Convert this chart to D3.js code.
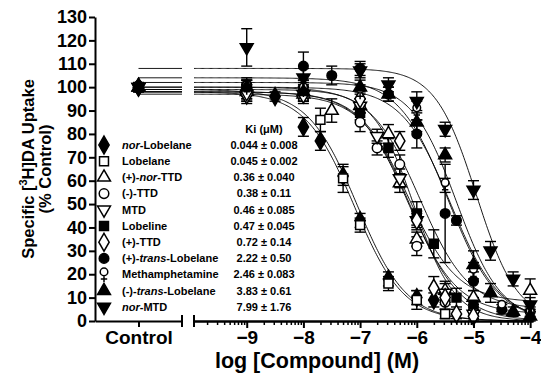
<!DOCTYPE html>
<html>
<head>
<meta charset="utf-8">
<script src="https://cdn.jsdelivr.net/npm/d3@7"></script>
<style>
  body { margin: 0; background: #fff; }
  text { font-family: "Liberation Sans", Arial, sans-serif; font-weight: bold; fill: #000; }
</style>
</head>
<body>
<svg id="chart" width="541" height="375"></svg>
<script>
"use strict";

// compounds, in legend order (*...* = italic part)
const seriesNames = ["*nor*-Lobelane", "Lobelane", "(+)-*nor*-TTD", "(-)-TTD", "MTD", "Lobeline",
  "(+)-TTD", "(+)-*trans*-Lobelane", "Methamphetamine", "(-)-*trans*-Lobelane", "*nor*-MTD"];
const kiLabels = ["0.044 \u00b1 0.008", "0.045 \u00b1 0.002", "0.36 \u00b1 0.040", "0.38 \u00b1 0.11",
  "0.46 \u00b1 0.085", "0.47 \u00b1 0.045", "0.72 \u00b1 0.14", "2.22 \u00b1 0.50", "2.46 \u00b1 0.083",
  "3.83 \u00b1 0.61", "7.99 \u00b1 1.76"];
const markerShapes = ["diamond", "square", "triangle", "circle", "triangleDown", "square",
  "diamond", "circle", "female", "triangle", "triangleDown"];
const markerFilled = [true, false, false, false, false, true, false, true, false, true, true];

// log [compound] (M), mean % control, SEM
const logConc = [
  [-9, -8.5, -8, -7.7, -7.3, -7, -6.5, -6, -5.7],
  [-9, -8, -7.7, -7.3, -7, -6.5, -6, -5.5],
  [-9, -8, -7.5, -7, -6.5, -6.3, -6, -5.5, -5, -4],
  [-9, -8, -7, -6.7, -6.3, -6, -5.5, -5, -4],
  [-9, -8, -7, -6.7, -6.3, -6, -5.5, -5],
  [-9, -8, -7, -6.5, -6, -5.7, -5.3, -5],
  [-9, -8, -7, -6.3, -6, -5.7, -5.5, -5.3, -5],
  [-9, -8, -7.5, -7, -6.5, -6, -5.5, -5.3, -5, -4.5],
  [-9, -8, -7, -6, -5.5, -5, -4.5, -4],
  [-9, -8, -7, -6.5, -6, -5.5, -5, -4.7, -4.3, -4],
  [-9, -8, -7, -6.5, -6, -5.5, -5, -4.7, -4.3, -4]
];
const meanValues = [
  [97, 96, 83, 77, 62, 43, 18, 10, 9],
  [99, 96, 86, 61, 41, 16, 9, 3],
  [98, 97, 90, 92, 80, 59, 35, 13, 10, 13],
  [97, 98, 85, 74, 67, 32, 8, 4, 4],
  [96, 97, 92, 79, 61, 43, 12, 3],
  [100, 99, 89, 74, 46, 33, 10, 7],
  [98, 97, 95, 77, 43, 14, 10, 3, 2],
  [101, 109, 105, 108, 97, 80, 46, 43, 17, 5],
  [100, 99, 98, 90, 58, 21, 6, 3],
  [100, 98, 100, 97, 85, 71, 24, 12, 4, 2],
  [117, 104, 107, 101, 94, 82, 56, 30, 18, 7]
];
const semValues = [
  [3, 2, 4, 4, 4, 3, 3, 3, 3],
  [3, 3, 5, 6, 3, 3, 4, 2],
  [3, 3, 5, 3, 4, 4, 3, 4, 3, 5],
  [3, 2, 4, 3, 4, 4, 3, 2, 2],
  [3, 3, 3, 3, 4, 4, 4, 2],
  [3, 4, 3, 4, 5, 6, 4, 3],
  [3, 3, 3, 4, 3, 5, 3, 2, 2],
  [3, 6, 4, 3, 3, 6, 21, 2, 4, 2],
  [3, 3, 3, 4, 3, 4, 2, 2],
  [3, 3, 3, 3, 4, 3, 6, 4, 2, 2],
  [8, 4, 3, 3, 4, 3, 4, 4, 3, 3]
];
// fitted one-site curves
const fitTop = [98, 99, 98, 98, 97, 100, 99, 104, 100, 102, 108];
const fitBottom = [0, 0, 8, 3, 0, 5, 0, 0, 0, 0, 0];
const fitLogIC50 = [-7.1, -7.05, -6.15, -6.15, -6.1, -5.95, -6.05, -5.45, -5.4, -5.3, -4.95];
const fitHill = [1, 1, 1, 1, 1, 1, 1.2, 1, 1, 1.1, 1.2];

const controlMean = 100;
const controlSem = 2;

const yTicks = [0, 10, 20, 30, 40, 50, 60, 70, 80, 90, 100, 110, 120, 130];
const xMajorTicks = [-9, -8, -7, -6, -5, -4];

const svg = d3.select("#chart");

const yScale = d3.scaleLinear().domain([0, 130]).range([321, 17]);
const xScale = d3.scaleLinear().domain([-9.93, -3.95]).range([194, 533]);
const ctrlScale = d3.scaleLinear().domain([0, 1]).range([95, 182]);
const ctrlX = ctrlScale(0.5);

const curve = (i, lx) =>
  fitBottom[i] + (fitTop[i] - fitBottom[i]) / (1 + Math.pow(10, (lx - fitLogIC50[i]) * fitHill[i]));

function markerPath(shape) {
  if (shape === "diamond") return d3.symbol(d3.symbolDiamond, 92)();
  if (shape === "square") return d3.symbol(d3.symbolSquare, 80)();
  if (shape === "triangle" || shape === "triangleDown") return d3.symbol(d3.symbolTriangle, 72)();
  if (shape === "circle") return d3.symbol(d3.symbolCircle, 72)();
  // female sign
  return "M0,-6.5A3.8,3.8 0 1,1 0,1.1A3.8,3.8 0 1,1 0,-6.5M0,1.1L0,7.5M-3.2,4.5L3.2,4.5";
}

function drawMarker(g, i, x, y) {
  const shape = markerShapes[i];
  g.append("path")
    .attr("d", markerPath(shape))
    .attr("transform", `translate(${x},${y})` + (shape === "triangleDown" ? " rotate(180)" : ""))
    .attr("fill", markerFilled[i] ? "#000" : "#fff")
    .attr("stroke", "#000")
    .attr("stroke-width", 1.5);
}

function errorBar(g, x, v, e) {
  const y0 = yScale(Math.max(0, v - e)), y1 = yScale(v + e);
  g.append("line").attr("x1", x).attr("x2", x).attr("y1", y0).attr("y2", y1);
  g.append("line").attr("x1", x - 5.5).attr("x2", x + 5.5).attr("y1", y0).attr("y2", y0);
  g.append("line").attr("x1", x - 5.5).attr("x2", x + 5.5).attr("y1", y1).attr("y2", y1);
}

// curves
const curveG = svg.append("g").attr("fill", "none").attr("stroke", "#000").attr("stroke-width", 0.9);
const xs = d3.range(-9.93, -3.95, 0.02);
seriesNames.forEach((n, i) => {
  curveG.append("path")
    .attr("d", d3.line().x(d => xScale(d)).y(d => yScale(curve(i, d)))(xs));
  curveG.append("line")
    .attr("x1", ctrlX).attr("x2", ctrlScale(1))
    .attr("y1", yScale(fitTop[i])).attr("y2", yScale(fitTop[i]));
});

// error bars + points
const pointG = svg.append("g");
const errG = pointG.append("g").attr("stroke", "#000").attr("stroke-width", 1.4);
seriesNames.forEach((n, i) => {
  logConc[i].forEach((c, j) => errorBar(errG, xScale(c), meanValues[i][j], semValues[i][j]));
});
errorBar(errG, ctrlX, controlMean, controlSem);
seriesNames.forEach((n, i) => {
  logConc[i].forEach((c, j) => drawMarker(pointG, i, xScale(c), yScale(meanValues[i][j])));
});
[0, 1, 2, 3, 4, 5, 6, 8, 9, 10, 7].forEach(i => drawMarker(pointG, i, ctrlX, yScale(controlMean)));

// axes
const axisStyle = g => {
  g.selectAll("path, line").attr("stroke", "#000").attr("stroke-width", 2);
  g.selectAll("text").attr("fill", "#000").attr("font-family", null).attr("font-weight", "bold");
};

svg.append("g")
  .attr("transform", "translate(95,0)")
  .call(d3.axisLeft(yScale).tickValues(yTicks).tickSize(6).tickSizeOuter(0).tickPadding(2).tickFormat(d3.format("d")))
  .call(axisStyle)
  .call(g => g.selectAll("text").attr("font-size", 18));

svg.append("g")
  .attr("transform", "translate(0,321)")
  .call(d3.axisBottom(ctrlScale).tickValues([0.5]).tickSize(6).tickSizeOuter(0).tickPadding(4).tickFormat(() => "Control"))
  .call(axisStyle)
  .call(g => g.selectAll("text").attr("font-size", 19));

const minorTicks = [];
[-10, -9, -8, -7, -6, -5].forEach(n => {
  [2, 3, 4, 5, 6, 7, 8, 9].forEach(k => {
    const v = n + Math.log10(k);
    if (v > -9.93 && v < -3.95) minorTicks.push(v);
  });
});

svg.append("g")
  .attr("transform", "translate(0,321)")
  .call(d3.axisBottom(xScale).tickValues(minorTicks).tickSize(4).tickSizeOuter(0).tickFormat(""))
  .call(axisStyle)
  .call(g => g.selectAll("line").attr("stroke-width", 1.5));

svg.append("g")
  .attr("transform", "translate(0,321)")
  .call(d3.axisBottom(xScale).tickValues(xMajorTicks).tickSize(7).tickSizeOuter(0).tickPadding(3).tickFormat(d3.format("d")))
  .call(axisStyle)
  .call(g => g.selectAll("text").attr("font-size", 19));

// break end caps
[ctrlScale(1), xScale(-9.93)].forEach(x => {
  svg.append("line").attr("x1", x).attr("x2", x).attr("y1", 315).attr("y2", 327)
    .attr("stroke", "#000").attr("stroke-width", 2);
});

// axis titles
svg.append("text")
  .attr("text-anchor", "middle")
  .attr("font-size", 21.5)
  .attr("x", 317).attr("y", 368)
  .text("log [Compound] (M)");

const yTitle = svg.append("text")
  .attr("text-anchor", "middle")
  .attr("font-size", 16.5)
  .attr("transform", "translate(34,169) rotate(-90)");
yTitle.append("tspan").text("Specific [");
yTitle.append("tspan").attr("font-size", 11).attr("dy", -7).text("3");
yTitle.append("tspan").attr("dy", 7).text("H]DA Uptake");

svg.append("text")
  .attr("text-anchor", "middle")
  .attr("font-size", 16.5)
  .attr("transform", "translate(51,169) rotate(-90)")
  .text("(% Control)");

// legend with Ki column
const legendY0 = 145, legendStep = 16.2;
const legend = svg.append("g");
legend.append("text")
  .attr("x", 264).attr("y", 129).attr("dy", "0.35em")
  .attr("text-anchor", "middle").attr("font-size", 11)
  .text("Ki (\u03bcM)");

seriesNames.forEach((name, i) => {
  const y = legendY0 + i * legendStep;
  drawMarker(legend, i, 104, y);
  const t = legend.append("text")
    .attr("x", 122).attr("y", y).attr("dy", "0.35em").attr("font-size", 11);
  name.split("*").forEach((part, k) => {
    if (part) t.append("tspan").attr("font-style", k % 2 ? "italic" : "normal").text(part);
  });
  legend.append("text")
    .attr("x", 264).attr("y", y).attr("dy", "0.35em")
    .attr("text-anchor", "middle").attr("font-size", 11)
    .text(kiLabels[i]);
});
</script>
</body>
</html>
